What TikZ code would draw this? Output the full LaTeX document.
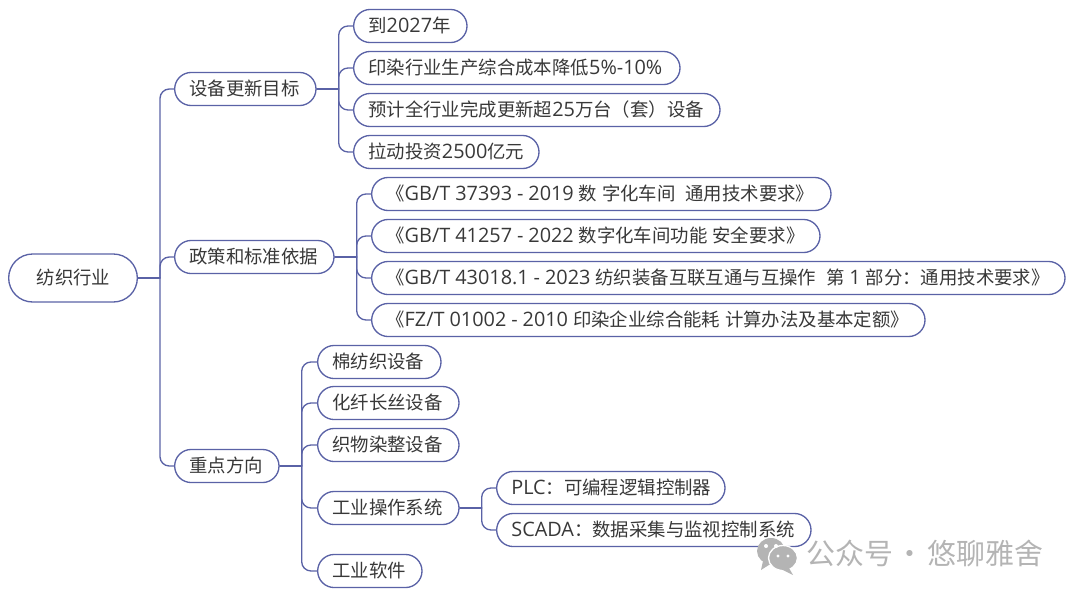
\documentclass[tikz,border=0pt]{standalone}
\usepackage{fontspec}
\setmainfont{Noto Sans CJK SC}
\newfontfamily\lat[Scale=1.08]{Open Sans}
\definecolor{linkcol}{HTML}{5A62A6}
\definecolor{txtcol}{HTML}{383838}
\definecolor{markcol}{HTML}{B4B4B4}
\newcommand{\stddash}{\mbox{-}}
\tikzset{
  topic/.style={draw=linkcol,line width=1pt,text=txtcol,font=\fontsize{13.8}{16}\selectfont,rounded corners=12.4pt,
    anchor=west,inner xsep=11pt,inner ysep=0pt,minimum height=24.8pt,text height=13pt,text depth=3pt,
    align=left,text width=#1-22.5pt,execute at begin node={\spaceskip=3.7pt\relax}},
  link/.style={draw=linkcol,line width=1pt},
}
\begin{document}
\begin{tikzpicture}[x=0.75pt,y=-0.75pt,line join=round,line cap=round]
    \useasboundingbox (0,0) rectangle (1080,597);
    % centre and first level
    \node[topic=77pt,inner xsep=21pt,minimum height=36pt,rounded corners=18pt] (textile) at (8,278) {纺织行业};
    \node[topic=106.5pt] (goal) at (174,89) {设备更新目标};
    \node[topic=120pt] (policy) at (174,257) {政策和标准依据};
    \node[topic=78.75pt] (focus) at (174,466) {重点方向};
    % goals
    \node[topic=85.5pt] (goala) at (353,26) {到{\lat 2027}年};
    \node[topic=245.25pt] (goalb) at (353,68) {印染行业生产综合成本降低{\lat 5\%-10\%}};
    \node[topic=275.25pt] (goalc) at (353,110) {预计全行业完成更新超{\lat 25}万台（套）设备};
    \node[topic=139.5pt] (goald) at (353,152) {拉动投资{\lat 2500}亿元};
    % standards
    \node[topic=345pt] (stda) at (371,194) {《{\lat GB/T~37393~\stddash~2019}~数~字化车间~~通用技术要求》};
    \node[topic=336.75pt] (stdb) at (371,236) {《{\lat GB/T~41257~\stddash~2022}~数字化车间功能~安全要求》};
    \node[topic=520.5pt] (stdc) at (371,278) {《{\lat GB/T~43018.1~\stddash~2023}~纺织装备互联互通与互操作~~第~{\lat 1}~部分：通用技术要求》};
    \node[topic=415.5pt] (stdd) at (371,320) {《{\lat FZ/T~01002~\stddash~2010}~印染企业综合能耗~计算办法及基本定额》};
    % focus areas
    \node[topic=93pt] (cotton) at (317,362) {棉纺织设备};
    \node[topic=106.5pt] (fibre) at (317,403) {化纤长丝设备};
    \node[topic=106.5pt] (dye) at (317,445) {织物染整设备};
    \node[topic=106.5pt] (ctrl) at (317,508) {工业操作系统};
    \node[topic=78.75pt] (soft) at (317,571) {工业软件};
    \node[topic=171.75pt] (plc) at (496,488) {{\lat PLC}：可编程逻辑控制器};
    \node[topic=236.25pt] (scada) at (496,530) {{\lat SCADA}：数据采集与监视控制系统};
    % connectors
    \draw[link] (textile.east) -- ++(22,0) coordinate (textilebus);
    \foreach \c in {goal,policy,focus} \draw[link,rounded corners=7pt] (textilebus) |- (\c.west);
    \draw[link] (goal.east) -- ++(22,0) coordinate (goalbus);
    \foreach \c in {goala,goalb,goalc,goald} \draw[link,rounded corners=7pt] (goalbus) |- (\c.west);
    \draw[link] (policy.east) -- ++(22,0) coordinate (policybus);
    \foreach \c in {stda,stdb,stdc,stdd} \draw[link,rounded corners=7pt] (policybus) |- (\c.west);
    \draw[link] (focus.east) -- ++(22,0) coordinate (focusbus);
    \foreach \c in {cotton,fibre,dye,ctrl,soft} \draw[link,rounded corners=7pt] (focusbus) |- (\c.west);
    \draw[link] (ctrl.east) -- ++(22,0) coordinate (ctrlbus);
    \foreach \c in {plc,scada} \draw[link,rounded corners=7pt] (ctrlbus) |- (\c.west);
    % watermark
    \fill[markcol] (771,551) ellipse (14 and 13);
    \fill[markcol] (763,561) -- (761,570) -- (772,563) -- cycle;
    \filldraw[markcol,draw=white,line width=1pt] (783,558) ellipse (14.5 and 12.5);
    \fill[markcol] (789,568) -- (793,575) -- (781,569) -- cycle;
    \fill[white] (766,546) circle (2) (776,546) circle (2) (778,556) circle (1.7) (788,556) circle (1.7);
    \node[text=markcol,font=\fontsize{21.7}{24}\selectfont,anchor=west,inner sep=0pt] (wmtext) at (806,553) {公众号\makebox[26pt]{·}悠聊雅舍};
\end{tikzpicture}
\end{document}
